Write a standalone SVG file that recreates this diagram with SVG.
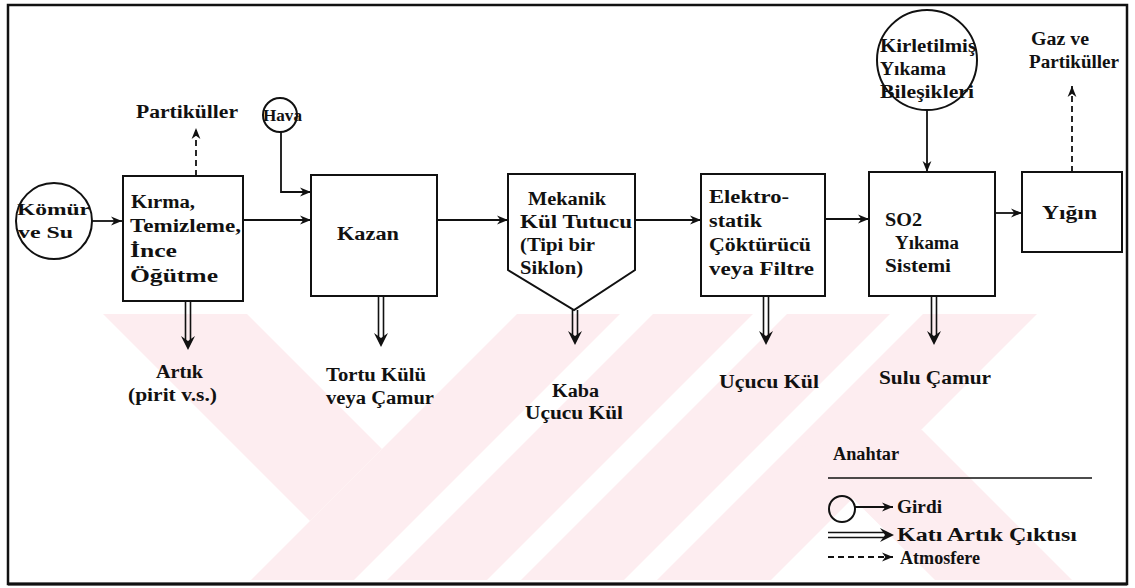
<svg xmlns="http://www.w3.org/2000/svg" width="1135" height="588" viewBox="0 0 1135 588">
<defs>
<style>
.t{font-family:"Liberation Serif","Times New Roman",serif;font-size:18px;font-weight:bold;fill:#111}
.s{font-size:17px}
.box{fill:none;stroke:#111;stroke-width:2}
.ln{fill:none;stroke:#111;stroke-width:1.8}
.dash{fill:none;stroke:#111;stroke-width:1.8;stroke-dasharray:6 4}
.dbl{fill:none;stroke:#111;stroke-width:1.6}
.head{fill:#111}
.wm{fill:#fdedf0}
</style>
<marker id="ah" viewBox="0 0 10 10" refX="10" refY="5" markerWidth="11" markerHeight="11" markerUnits="userSpaceOnUse" orient="auto">
<path d="M0,1 L10,5 L0,9 L3,5 Z" fill="#111"/>
</marker>
<clipPath id="wmclip"><rect x="9" y="314" width="1117" height="268"/></clipPath>
</defs>
<rect x="0" y="0" width="1135" height="588" fill="#fff"/>
<g id="watermark" clip-path="url(#wmclip)">
<polygon class="wm" points="103,314 247,314 382,449 310,521"/>
<polygon class="wm" points="517,314 620,314 354,580 251,580"/>
<polygon class="wm" points="653,314 753,314 487,580 387,580"/>
<polygon class="wm" points="787,314 890,314 624,580 521,580"/>
<polygon class="wm" points="923,314 1037,314 771,580 657,580"/>
<polygon class="wm" points="801,447 922,430 1072,580 935,580"/>
</g>
<rect x="8" y="5" width="1119" height="579" fill="none" stroke="#111" stroke-width="2.5"/>
<line x1="8" y1="584" x2="1127" y2="584" stroke="#111" stroke-width="3"/>

<g id="connectors">
<line class="ln" x1="92" y1="221" x2="122" y2="221" marker-end="url(#ah)"/>
<line class="ln" x1="243" y1="220" x2="311" y2="220" marker-end="url(#ah)"/>
<path class="ln" d="M281,132 V192 H311" marker-end="url(#ah)"/>
<line class="ln" x1="437" y1="220" x2="508" y2="220" marker-end="url(#ah)"/>
<line class="ln" x1="635" y1="220" x2="701" y2="220" marker-end="url(#ah)"/>
<line class="ln" x1="825" y1="219" x2="869" y2="219" marker-end="url(#ah)"/>
<line class="ln" x1="995" y1="213" x2="1022" y2="213" marker-end="url(#ah)"/>
<line class="ln" x1="927" y1="110" x2="927" y2="172" marker-end="url(#ah)"/>
<line class="dash" x1="196" y1="176" x2="196" y2="128" marker-end="url(#ah)"/>
<line class="dash" x1="1072" y1="172" x2="1072" y2="86" marker-end="url(#ah)"/>
<g id="out-kirma"><path class="dbl" d="M185.5,301 V340 M190.5,301 V340"/><path class="head" d="M181,336 L188,350 L195,336 L188,341 Z"/></g>
<g id="out-kazan"><path class="dbl" d="M378.5,296 V337 M383.5,296 V337"/><path class="head" d="M374,333 L381,347 L388,333 L381,338 Z"/></g>
<g id="out-mekanik"><path class="dbl" d="M572.5,310 V335 M577.5,310 V335"/><path class="head" d="M568,331 L575,345 L582,331 L575,336 Z"/></g>
<g id="out-elektro"><path class="dbl" d="M763.5,296 V335 M768.5,296 V335"/><path class="head" d="M759,331 L766,345 L773,331 L766,336 Z"/></g>
<g id="out-so2"><path class="dbl" d="M931.5,296 V335 M936.5,296 V335"/><path class="head" d="M927,331 L934,345 L941,331 L934,336 Z"/></g>
</g>

<g id="komur"><circle class="box" cx="54" cy="221" r="38"/>
<text class="t s" x="17" y="215" textLength="73" lengthAdjust="spacingAndGlyphs">Kömür</text>
<text class="t s" x="18" y="238" textLength="55" lengthAdjust="spacingAndGlyphs">ve Su</text></g>

<g id="hava"><circle class="box" cx="280" cy="115" r="17"/>
<text class="t s" x="263" y="121" textLength="39" lengthAdjust="spacingAndGlyphs">Hava</text></g>

<g id="partikuller1"><text class="t" x="136" y="118" textLength="102" lengthAdjust="spacingAndGlyphs">Partiküller</text></g>

<g id="kirma"><rect class="box" x="123" y="176" width="120" height="125"/>
<text class="t" x="131" y="208" textLength="64" lengthAdjust="spacingAndGlyphs">Kırma,</text>
<text class="t" x="130" y="232" textLength="111" lengthAdjust="spacingAndGlyphs">Temizleme,</text>
<text class="t" x="130" y="257" textLength="47" lengthAdjust="spacingAndGlyphs">İnce</text>
<text class="t" x="130" y="282" textLength="88" lengthAdjust="spacingAndGlyphs">Öğütme</text></g>

<g id="kazan"><rect class="box" x="311" y="175" width="126" height="121"/>
<text class="t" x="337" y="240" textLength="62" lengthAdjust="spacingAndGlyphs">Kazan</text></g>

<g id="mekanik"><polygon class="box" points="508,174 635,174 635,270 574,310 508,270"/>
<text class="t" x="528" y="205" textLength="78" lengthAdjust="spacingAndGlyphs">Mekanik</text>
<text class="t" x="520" y="228" textLength="112" lengthAdjust="spacingAndGlyphs">Kül Tutucu</text>
<text class="t" x="520" y="251" textLength="75" lengthAdjust="spacingAndGlyphs">(Tipi bir</text>
<text class="t" x="520" y="274" textLength="63" lengthAdjust="spacingAndGlyphs">Siklon)</text></g>

<g id="elektro"><rect class="box" x="701" y="174" width="124" height="122"/>
<text class="t" x="709" y="203" textLength="80" lengthAdjust="spacingAndGlyphs">Elektro-</text>
<text class="t" x="709" y="227" textLength="53" lengthAdjust="spacingAndGlyphs">statik</text>
<text class="t" x="709" y="251" textLength="102" lengthAdjust="spacingAndGlyphs">Çöktürücü</text>
<text class="t" x="709" y="275" textLength="105" lengthAdjust="spacingAndGlyphs">veya Filtre</text></g>

<g id="kirletilmis"><circle class="box" cx="927" cy="60" r="50"/>
<text class="t" x="880" y="52" textLength="96" lengthAdjust="spacingAndGlyphs">Kirletilmiş</text>
<text class="t" x="880" y="75" textLength="66" lengthAdjust="spacingAndGlyphs">Yıkama</text>
<text class="t" x="880" y="98" textLength="94" lengthAdjust="spacingAndGlyphs">Bileşikleri</text></g>

<g id="so2"><rect class="box" x="869" y="172" width="126" height="124"/>
<text class="t" x="885" y="226" textLength="37" lengthAdjust="spacingAndGlyphs">SO2</text>
<text class="t" x="895" y="249" textLength="64" lengthAdjust="spacingAndGlyphs">Yıkama</text>
<text class="t" x="885" y="272" textLength="66" lengthAdjust="spacingAndGlyphs">Sistemi</text></g>

<g id="yigin"><rect class="box" x="1022" y="172" width="100" height="80"/>
<text class="t" x="1042" y="219" textLength="55" lengthAdjust="spacingAndGlyphs">Yığın</text></g>

<g id="gaz"><text class="t" x="1031" y="45" textLength="58" lengthAdjust="spacingAndGlyphs">Gaz ve</text>
<text class="t" x="1029" y="68" textLength="90" lengthAdjust="spacingAndGlyphs">Partiküller</text></g>

<g id="outputs">
<text class="t" x="156" y="378" textLength="47" lengthAdjust="spacingAndGlyphs">Artık</text>
<text class="t" x="128" y="401" textLength="89" lengthAdjust="spacingAndGlyphs">(pirit v.s.)</text>
<text class="t" x="326" y="381" textLength="100" lengthAdjust="spacingAndGlyphs">Tortu Külü</text>
<text class="t" x="326" y="404" textLength="108" lengthAdjust="spacingAndGlyphs">veya Çamur</text>
<text class="t" x="552" y="397" textLength="47" lengthAdjust="spacingAndGlyphs">Kaba</text>
<text class="t" x="525" y="419" textLength="98" lengthAdjust="spacingAndGlyphs">Uçucu Kül</text>
<text class="t" x="719" y="388" textLength="100" lengthAdjust="spacingAndGlyphs">Uçucu Kül</text>
<text class="t" x="879" y="384" textLength="112" lengthAdjust="spacingAndGlyphs">Sulu Çamur</text>
</g>

<g id="legend">
<text class="t" x="833" y="460" textLength="66" lengthAdjust="spacingAndGlyphs">Anahtar</text>
<line x1="828" y1="478" x2="1092" y2="478" stroke="#111" stroke-width="1.5"/>
<circle class="box" cx="842" cy="509" r="13"/>
<line class="ln" x1="855" y1="507" x2="893" y2="507" marker-end="url(#ah)"/>
<text class="t" x="897" y="513" textLength="45" lengthAdjust="spacingAndGlyphs">Girdi</text>
<path class="dbl" d="M828,532.5 H884 M828,537.5 H884"/>
<path class="head" d="M880,528 L894,535 L880,542 L885,535 Z"/>
<text class="t" x="897" y="541" textLength="180" lengthAdjust="spacingAndGlyphs">Katı Artık Çıktısı</text>
<line class="dash" x1="828" y1="557" x2="893" y2="557" marker-end="url(#ah)"/>
<text class="t" x="900" y="564" textLength="80" lengthAdjust="spacingAndGlyphs">Atmosfere</text>
</g>
</svg>
